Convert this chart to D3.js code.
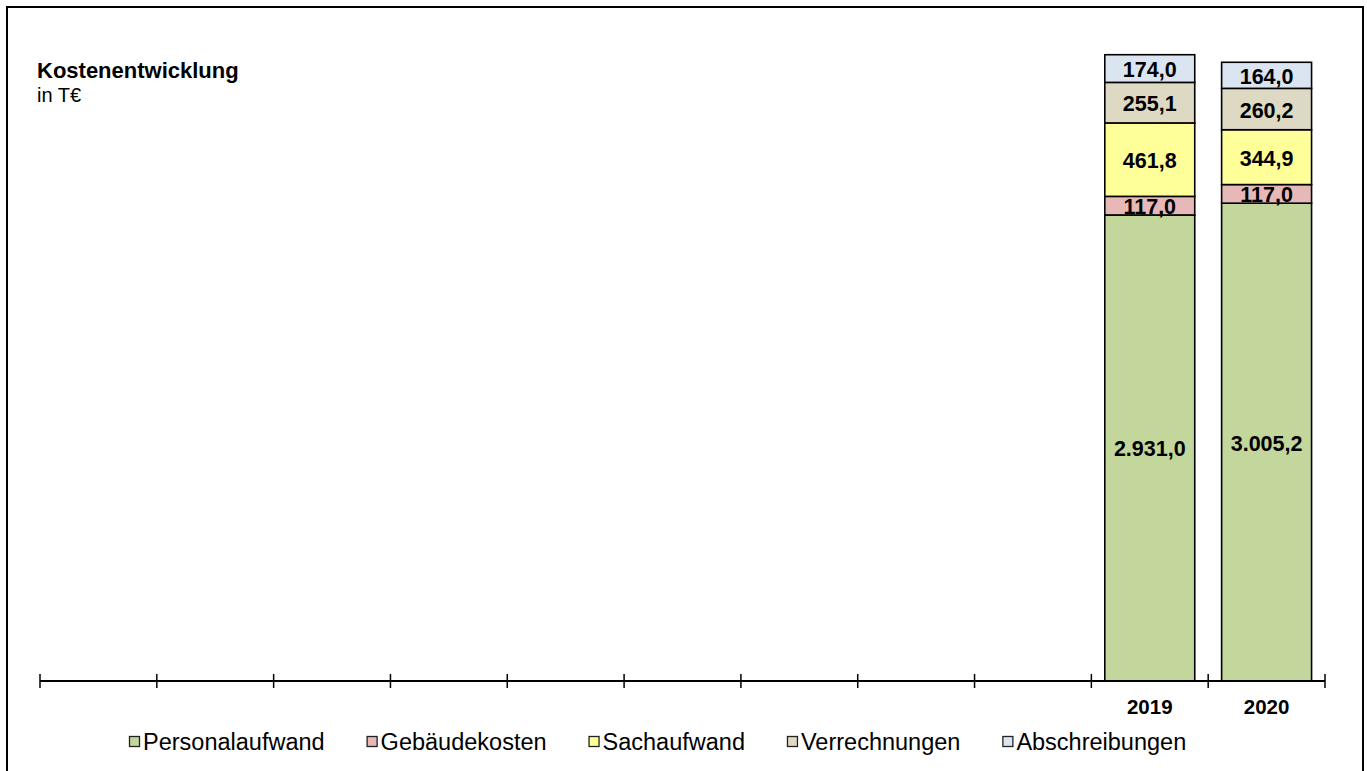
<!DOCTYPE html>
<html>
<head>
<meta charset="utf-8">
<script src="https://cdn.jsdelivr.net/npm/d3@7"></script>
<style>
  html, body { margin: 0; padding: 0; background: #fff; }
  svg { display: block; font-family: "Liberation Sans", Arial, sans-serif; }
</style>
</head>
<body>
<svg id="chart" width="1367" height="771"></svg>
<script>
// ---- data ----
const categories = ["", "", "", "", "", "", "", "", "", "2019", "2020"];
const seriesNames = ["Personalaufwand", "Gebäudekosten", "Sachaufwand", "Verrechnungen", "Abschreibungen"];
const personalaufwand = [null, null, null, null, null, null, null, null, null, 2931.0, 3005.2];
const gebaeudekosten  = [null, null, null, null, null, null, null, null, null, 117.0, 117.0];
const sachaufwand     = [null, null, null, null, null, null, null, null, null, 461.8, 344.9];
const verrechnungen   = [null, null, null, null, null, null, null, null, null, 255.1, 260.2];
const abschreibungen  = [null, null, null, null, null, null, null, null, null, 174.0, 164.0];
const seriesColors = ["#c3d69b", "#e6b9b8", "#ffff99", "#ddd9c3", "#dbe5f1"];
const title = "Kostenentwicklung";
const subtitle = "in T€";

const seriesValues = [personalaufwand, gebaeudekosten, sachaufwand, verrechnungen, abschreibungen];

// ---- layout ----
const svg = d3.select("#chart");
const axisY = 681;
const plotLeft = 40, plotRight = 1325;

// outer frame
svg.append("rect")
  .attr("x", 7).attr("y", 7)
  .attr("width", 1356).attr("height", 800)
  .attr("fill", "none").attr("stroke", "#000").attr("stroke-width", 2);

const x = d3.scaleBand()
  .domain(d3.range(categories.length))
  .range([plotLeft, plotRight])
  .paddingInner(0.23)
  .paddingOuter(0.115);

const y = d3.scaleLinear().domain([0, 4000]).range([axisY, 45]);

// stacked data
const rows = categories.map((c, i) => {
  const r = { idx: i, cat: c };
  seriesNames.forEach((s, k) => r[s] = seriesValues[k][i] == null ? 0 : seriesValues[k][i]);
  return r;
});
const stack = d3.stack().keys(seriesNames)(rows);

const fmt = v => {
  const s = d3.format(",.1f")(v);
  return s.replace(/,/g, "X").replace(/\./g, ",").replace(/X/g, ".");
};

const g = svg.append("g");
stack.forEach((layer, k) => {
  g.selectAll(null)
    .data(layer.filter(d => seriesValues[k][d.data.idx] != null))
    .enter().append("rect")
    .attr("x", d => x(d.data.idx))
    .attr("width", x.bandwidth())
    .attr("y", d => y(d[1]))
    .attr("height", d => y(d[0]) - y(d[1]))
    .attr("fill", seriesColors[k])
    .attr("stroke", "#000")
    .attr("stroke-width", 1.6);
});

// value labels
stack.forEach((layer, k) => {
  g.selectAll(null)
    .data(layer.filter(d => seriesValues[k][d.data.idx] != null))
    .enter().append("text")
    .attr("x", d => x(d.data.idx) + x.bandwidth() / 2)
    .attr("y", d => (y(d[0]) + y(d[1])) / 2 + 1.5)
    .attr("text-anchor", "middle")
    .attr("dominant-baseline", "central")
    .attr("font-weight", "bold")
    .attr("font-size", 21.5)
    .attr("fill", "#000")
    .text(d => fmt(seriesValues[k][d.data.idx]));
});

// x axis
const step = x.step();
svg.append("line")
  .attr("x1", plotLeft).attr("x2", plotRight)
  .attr("y1", axisY).attr("y2", axisY)
  .attr("stroke", "#000").attr("stroke-width", 2);
svg.selectAll(".tick")
  .data(d3.range(categories.length + 1))
  .enter().append("line")
  .attr("x1", i => plotLeft + i * step).attr("x2", i => plotLeft + i * step)
  .attr("y1", axisY - 7).attr("y2", axisY + 7)
  .attr("stroke", "#000").attr("stroke-width", 1.5);
svg.selectAll(".catlabel")
  .data(categories.map((c, i) => ({ c, i })).filter(d => d.c !== ""))
  .enter().append("text")
  .attr("x", d => x(d.i) + x.bandwidth() / 2)
  .attr("y", 714)
  .attr("text-anchor", "middle")
  .attr("font-weight", "bold")
  .attr("font-size", 20.5)
  .text(d => d.c);

// title
svg.append("text").attr("x", 37).attr("y", 78)
  .attr("font-weight", "bold").attr("font-size", 22).text(title);
svg.append("text").attr("x", 37).attr("y", 102)
  .attr("font-size", 20).text(subtitle);

// legend
const leg = svg.append("g");
let lx = 129;
seriesNames.forEach((s, k) => {
  leg.append("rect")
    .attr("x", lx + 0.5).attr("y", 736.5)
    .attr("width", 10).attr("height", 10)
    .attr("fill", seriesColors[k]).attr("stroke", "#222").attr("stroke-width", 1.3);
  const t = leg.append("text")
    .attr("x", lx + 14).attr("y", 750)
    .attr("font-size", 23.5).text(s);
  lx += 14 + t.node().getComputedTextLength() + 42;
});
</script>
</body>
</html>
